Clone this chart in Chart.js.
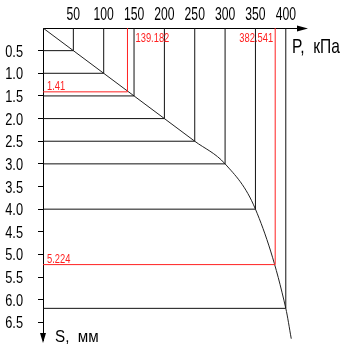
<!DOCTYPE html>
<html>
<head>
<meta charset="utf-8">
<script src="https://cdn.jsdelivr.net/npm/chart.js@4/dist/chart.umd.min.js"></script>
<style>
  html, body { margin: 0; padding: 0; background: #fff; }
  #wrap { width: 355px; height: 346px; }
</style>
</head>
<body>
<div id="wrap"><canvas id="chart"></canvas></div>
<script>
// data
const pressure = [0, 50, 100, 150, 200, 250, 300, 350, 400, 409];
const settlement = [0, 0.5, 1.0, 1.5, 2.0, 2.5, 3.0, 4.0, 6.19, 6.86];
const stepP = [50, 100, 150, 200, 250, 300, 350, 400];
const stepS = [0.5, 1.0, 1.5, 2.0, 2.5, 3.0, 4.0, 6.19];
const markP = [139.182, 382.541];
const markS = [1.41, 5.224];
const xTicks = [50, 100, 150, 200, 250, 300, 350, 400];
const yTicks = [0.5, 1.0, 1.5, 2.0, 2.5, 3.0, 3.5, 4.0, 4.5, 5.0, 5.5, 6.0, 6.5];

const FONT = '"Liberation Sans", Arial, sans-serif';
const RED = '#ff2020';

// step lines: horizontal from axis to point, then up to the P axis
const stepSets = stepP.map((p, i) => ({
  data: [{ x: 0, y: stepS[i] }, { x: p, y: stepS[i] }, { x: p, y: 0 }],
  borderColor: '#111',
  borderWidth: 1,
  pointRadius: 0,
  tension: 0
}));

const markSets = markP.map((p, i) => ({
  data: [{ x: 0, y: markS[i] }, { x: p, y: markS[i] }, { x: p, y: 0 }],
  borderColor: RED,
  borderWidth: 1,
  pointRadius: 0,
  tension: 0
}));

const curveSet = {
  data: pressure.map((p, i) => ({ x: p, y: settlement[i] })),
  borderColor: '#222',
  borderWidth: 1,
  pointRadius: 0,
  cubicInterpolationMode: 'monotone'
};

// narrow text, like the CAD font of the original
function narrow(ctx, text, x, y, size, sx, align) {
  ctx.save();
  ctx.font = size + 'px ' + FONT;
  ctx.textBaseline = 'alphabetic';
  ctx.textAlign = align;
  ctx.translate(x, y);
  ctx.scale(sx, 1);
  ctx.fillText(text, 0, 0);
  ctx.restore();
}

// tick labels, arrows, axis titles, red value labels
const extras = {
  id: 'extras',
  afterDatasetsDraw(chart) {
    const { ctx, chartArea, scales } = chart;
    const xs = scales.x, ys = scales.y;
    const x0 = chartArea.left, y0 = chartArea.top;
    ctx.save();
    ctx.strokeStyle = '#000';
    ctx.fillStyle = '#000';
    ctx.lineWidth = 1;

    xs.ticks.forEach(t => narrow(ctx, String(t.value), xs.getPixelForValue(t.value), 20, 19, 0.64, 'center'));
    ys.ticks.forEach(t => narrow(ctx, t.value.toFixed(1), 23, ys.getPixelForValue(t.value) + 6, 16, 0.8, 'right'));

    // x axis arrow
    ctx.beginPath();
    ctx.moveTo(chartArea.right, y0 + 0.5);
    ctx.lineTo(300, y0 + 0.5);
    ctx.stroke();
    ctx.beginPath();
    ctx.moveTo(297, y0 - 2.5);
    ctx.lineTo(308, y0 + 0.5);
    ctx.lineTo(297, y0 + 3.5);
    ctx.closePath();
    ctx.fill();
    // y axis arrow
    ctx.beginPath();
    ctx.moveTo(x0 - 3, 333);
    ctx.lineTo(x0, 343);
    ctx.lineTo(x0 + 3, 333);
    ctx.closePath();
    ctx.fill();

    narrow(ctx, 'P,  кПа', 292, 53, 21, 0.74, 'left');
    narrow(ctx, 'S,  мм', 55, 342, 16, 0.95, 'left');

    ctx.fillStyle = RED;
    narrow(ctx, String(markS[0]), x0 + 4, ys.getPixelForValue(markS[0]) - 1.5, 13, 0.72, 'left');
    narrow(ctx, String(markS[1]), x0 + 4, ys.getPixelForValue(markS[1]) - 1.5, 13, 0.72, 'left');
    narrow(ctx, String(markP[0]), xs.getPixelForValue(markP[0]) + 8, 42, 13, 0.72, 'left');
    narrow(ctx, String(markP[1]), xs.getPixelForValue(markP[1]) - 2, 42, 13, 0.72, 'right');
    ctx.restore();
  }
};

new Chart(document.getElementById('chart'), {
  type: 'line',
  data: { datasets: [...stepSets, ...markSets, curveSet] },
  options: {
    responsive: true,
    maintainAspectRatio: false,
    animation: false,
    layout: { padding: { left: 0, top: 0, right: 51, bottom: 5.5 } },
    plugins: { legend: { display: false }, tooltip: { enabled: false } },
    scales: {
      x: {
        type: 'linear',
        position: 'top',
        min: 0,
        max: 430,
        afterFit: s => { s.height = 28; s.paddingLeft = 0; s.paddingRight = 0; },
        afterBuildTicks: s => { s.ticks = xTicks.map(v => ({ value: v })); },
        ticks: { display: false },
        grid: { display: false },
        border: { display: true, color: '#000', width: 1 }
      },
      y: {
        type: 'linear',
        reverse: true,
        min: 0,
        max: 6.9,
        afterFit: s => { s.width = 43; s.paddingTop = 0; s.paddingBottom = 0; },
        afterBuildTicks: s => { s.ticks = yTicks.map(v => ({ value: v })); },
        ticks: { display: false },
        grid: { drawOnChartArea: false, drawTicks: true, tickLength: 5, color: '#000' },
        border: { display: true, color: '#000', width: 1 }
      }
    }
  },
  plugins: [extras]
});
</script>
</body>
</html>
